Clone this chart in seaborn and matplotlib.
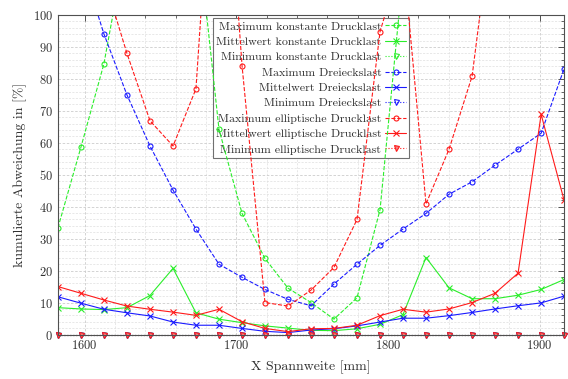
import numpy as np
import pandas as pd
import seaborn as sns
import matplotlib
matplotlib.use("Agg")
import matplotlib.pyplot as plt
from matplotlib.ticker import MultipleLocator

# span widths [mm]
spannweite = [1582.4, 1597.6, 1612.7, 1627.9, 1643.1, 1658.3, 1673.4, 1688.6,
              1703.8, 1718.9, 1734.1, 1749.3, 1764.4, 1779.6, 1794.8, 1809.9,
              1825.1, 1840.3, 1855.5, 1870.6, 1885.8, 1901.0, 1916.1]

# cumulative deviation [%]
max_konstant = [33.4, 58.7, 84.7, 124, 170, 160, 131, 64.2, 37.9, 23.8, 14.5, 10.0,
                4.8, 11.5, 39.1, 113, 150, 180, 200, 220, 240, 260, 280]
mittel_konstant = [8.4, 8.0, 7.8, 8.4, 12.2, 20.7, 6.8, 4.8, 3.7, 2.7, 2.0, 1.3,
                   1.2, 1.8, 3.2, 6.2, 24.1, 14.6, 11.2, 11.2, 12.3, 14.1, 17.2]
min_konstant = [0.0] * 23

max_dreieck = [140, 117, 94.1, 75.0, 59.0, 45.2, 33.0, 22.0, 17.9, 14.1, 11.0, 9.0,
               15.8, 22.0, 27.9, 33.0, 37.9, 43.9, 47.8, 53.0, 58.0, 63.0, 83.1]
mittel_dreieck = [11.8, 9.8, 7.9, 6.8, 5.8, 3.9, 2.9, 2.9, 1.9, 1.0, 0.6, 1.4,
                  1.8, 2.7, 3.9, 5.1, 5.1, 5.9, 6.9, 8.0, 9.0, 9.9, 12.0]
min_dreieck = [0.0] * 23

max_ellipse = [150, 130, 111.6, 88.0, 66.9, 59.0, 76.9, 185, 84.1, 10.0, 8.9, 13.9,
               21.0, 36.0, 94.8, 119, 40.9, 58.0, 80.9, 137, 190, 240, 280]
mittel_ellipse = [15.0, 12.9, 10.8, 8.9, 7.9, 7.0, 6.0, 7.9, 4.0, 1.9, 0.9, 1.8,
                  1.9, 2.9, 5.9, 7.9, 7.0, 8.0, 10.0, 12.9, 19.2, 68.9, 42.1]
min_ellipse = [0.0] * 23

sns.set_theme(style="white")
plt.rcParams["font.family"] = ["cmr10", "DejaVu Serif"]
plt.rcParams["mathtext.fontset"] = "cm"
plt.rcParams["axes.unicode_minus"] = False
plt.rcParams["axes.formatter.use_mathtext"] = True

GREEN, BLUE, RED = "#2aee2a", "#1a1aff", "#ff1a1a"

series = [
    ("Maximum konstante Drucklast", max_konstant, GREEN, "--", "o"),
    ("Mittelwert konstante Drucklast", mittel_konstant, GREEN, "-", "x"),
    ("Minimum konstante Drucklast", min_konstant, GREEN, ":", "v"),
    ("Maximum Dreieckslast", max_dreieck, BLUE, "--", "o"),
    ("Mittelwert Dreieckslast", mittel_dreieck, BLUE, "-", "x"),
    ("Minimum Dreieckslast", min_dreieck, BLUE, ":", "v"),
    ("Maximum elliptische Drucklast", max_ellipse, RED, "--", "o"),
    ("Mittelwert elliptische Drucklast", mittel_ellipse, RED, "-", "x"),
    ("Minimum elliptische Drucklast", min_ellipse, RED, ":", "v"),
]

fig = plt.figure(figsize=(5.68, 3.79), dpi=100)
ax = fig.add_axes([0.102, 0.1174, 0.891, 0.843])

for name, vals, col, ls, mk in series:
    df = pd.DataFrame({"x": spannweite, "y": vals})
    is_min = name.startswith("Minimum")
    sns.lineplot(data=df, x="x", y="y", ax=ax, label=name, color=col,
                 linestyle=ls, linewidth=0.8, marker=mk,
                 markersize=3.6 if mk != "x" else 4.2,
                 markerfacecolor=("#f08080" if col == RED else "none") if is_min else "none",
                 markeredgecolor=col, markeredgewidth=0.8,
                 errorbar=None, sort=False, clip_on=not is_min)

ax.set_xlim(spannweite[0], spannweite[-1])
ax.set_ylim(0, 100)
ax.xaxis.set_major_locator(MultipleLocator(100))
ax.xaxis.set_minor_locator(MultipleLocator(20))
ax.yaxis.set_major_locator(MultipleLocator(10))
ax.yaxis.set_minor_locator(MultipleLocator(2))

axis_col = "#505050"
ax.set_axisbelow(True)
ax.grid(which="major", color="#cccccc", linestyle=(0, (3, 2)), linewidth=0.6)
ax.grid(which="minor", color="#dedede", linestyle=(0, (3, 2)), linewidth=0.5)
for sp in ax.spines.values():
    sp.set_color(axis_col)
    sp.set_linewidth(0.8)
ax.tick_params(which="both", direction="in", top=True, right=True,
               colors=axis_col, labelcolor="#303030", labelsize=9)
ax.tick_params(which="major", length=4, width=0.7)
ax.tick_params(which="minor", length=2, width=0.6)

ax.set_xlabel("X Spannweite [mm]", fontsize=10, color="#303030", labelpad=6)
ax.set_ylabel("kumulierte Abweichung in [%]", fontsize=10, color="#303030", labelpad=4)

leg = ax.legend(loc="upper center", bbox_to_anchor=(0.5, 0.99), markerfirst=False,
                fontsize=8.6, frameon=True, fancybox=False, framealpha=1,
                edgecolor="#707070", handlelength=1.8, handletextpad=0.3,
                borderpad=0.25, labelspacing=0.42, borderaxespad=0)
leg.get_frame().set_linewidth(0.8)
for t in leg.get_texts():
    t.set_color("#303030")
    t.set_ha("right")
leg.set_zorder(1.5)

fig.savefig("out.png", dpi=100)
